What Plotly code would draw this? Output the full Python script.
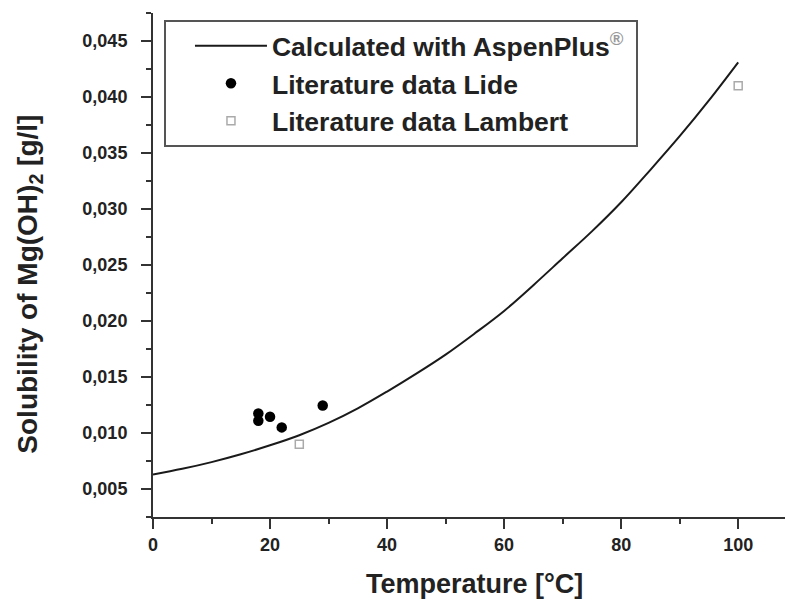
import plotly.graph_objects as go

# Calculated curve (AspenPlus)
calc_T = [0, 5, 10, 15, 20, 25, 30, 35, 40, 45, 50, 55, 60, 65, 70, 75, 80, 85, 90, 95, 100]
calc_S = [0.0063, 0.0068, 0.0074, 0.0081, 0.0089, 0.0098, 0.0109, 0.0122, 0.0137, 0.0153,
          0.0170, 0.0189, 0.0209, 0.0232, 0.0256, 0.0280, 0.0306, 0.0335, 0.0365, 0.0397, 0.0431]

# Literature data Lide
lide_T = [18, 18, 20, 22, 29]
lide_S = [0.01175, 0.0111, 0.01145, 0.0105, 0.01245]

# Literature data Lambert
lambert_T = [25, 100]
lambert_S = [0.0090, 0.0410]

FONT = "Arial, 'Liberation Sans', sans-serif"
AX = "#333333"
TXT = "#222222"
NB = "\u00a0"

fig = go.Figure()
fig.add_trace(go.Scatter(
    x=calc_T, y=calc_S, mode="lines", line=dict(color="#1a1a1a", width=2, shape="spline"),
    name="Calculated with AspenPlus<sup><span style='color:#999999'>®</span></sup>" + NB))
fig.add_trace(go.Scatter(
    x=lide_T, y=lide_S, mode="markers",
    marker=dict(symbol="circle", size=10.5, color="#000000"),
    name="Literature data Lide"))
fig.add_trace(go.Scatter(
    x=lambert_T, y=lambert_S, mode="markers",
    marker=dict(symbol="square-open", size=8, color="#aaaaaa", line=dict(width=1.5, color="#aaaaaa")),
    name="Literature data Lambert"))

fig.update_layout(
    width=786, height=601,
    margin=dict(l=153, r=1, t=13, b=84),
    paper_bgcolor="white", plot_bgcolor="white",
    separators=",.",
    font=dict(family=FONT, color=TXT),
    showlegend=True,
    legend=dict(
        x=0.0175, y=0.986, xanchor="left", yanchor="top",
        bordercolor="#555555", borderwidth=2, bgcolor="white",
        font=dict(size=26.5, family=FONT, weight="bold", color=TXT),
        itemwidth=72, tracegroupgap=0,
        title=dict(text=NB * 2, side="left", font=dict(size=25, family=FONT)),
    ),
    annotations=[
        dict(text="<b>Solubility of Mg(OH)<sub>2</sub> [g/l]</b>", textangle=-90,
             xref="paper", yref="paper", x=-0.1946, y=0.461,
             xanchor="center", yanchor="middle", showarrow=False,
             font=dict(size=28, family=FONT, color=TXT)),
        dict(text="<b>Temperature [°C]</b>",
             xref="paper", yref="paper", x=0.508, y=-0.133,
             xanchor="center", yanchor="middle", showarrow=False,
             font=dict(size=27, family=FONT, color=TXT)),
    ],
)

fig.update_xaxes(
    range=[0, 108], tick0=0, dtick=20, automargin=False,
    showline=True, linecolor=AX, linewidth=2, mirror=False,
    ticks="outside", ticklen=10, tickwidth=2, tickcolor=AX,
    minor=dict(ticks="outside", ticklen=5, dtick=10, tickwidth=1.5, tickcolor=AX),
    showgrid=False, zeroline=False,
    tickfont=dict(size=18, family=FONT, weight="bold", color=TXT),
)
fig.update_yaxes(
    range=[0.0025, 0.0475], tick0=0.005, dtick=0.005, tickformat=".3f", automargin=False,
    showline=True, linecolor=AX, linewidth=2, mirror=False,
    ticks="outside", ticklen=10, tickwidth=2, tickcolor=AX, ticklabelstandoff=10,
    minor=dict(ticks="outside", ticklen=5, dtick=0.0025, tickwidth=1.5, tickcolor=AX),
    showgrid=False, zeroline=False,
    tickfont=dict(size=18, family=FONT, weight="bold", color=TXT),
)

fig.write_html("out.html", config={"displayModeBar": False},
               post_script="document.body.style.margin='0';")
